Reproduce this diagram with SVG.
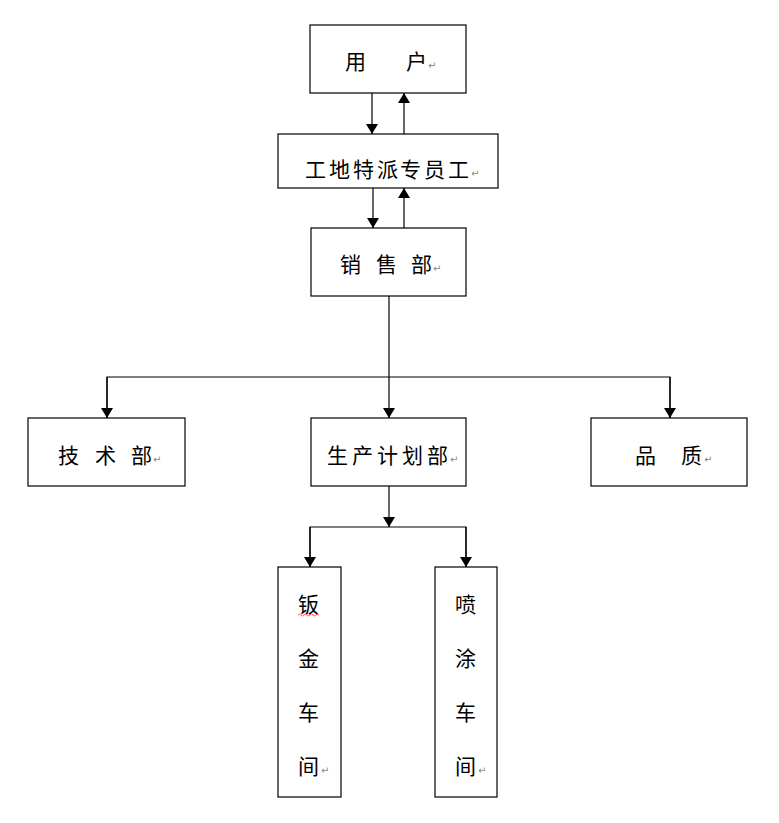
<svg xmlns="http://www.w3.org/2000/svg" width="779" height="823" viewBox="0 0 779 823">
<style>
.box{fill:#fff;stroke:#000;stroke-width:1.2}
.t{font-family:"Liberation Serif","Noto Sans CJK SC",serif;font-size:21px;fill:#000}
.r{font-family:"DejaVu Sans",sans-serif;font-size:10px;fill:#888}
.c{stroke:#000;stroke-width:1.2;fill:none}
</style>
<defs>
<marker id="ah" viewBox="0 0 10 12" refX="10" refY="6" markerWidth="10" markerHeight="12" markerUnits="userSpaceOnUse" orient="auto">
<path d="M0,0 L10,6 L0,12 Z" fill="#000"/>
</marker>
</defs>
<rect width="779" height="823" fill="#fff"/>
<g id="connectors">
<line class="c" x1="372" y1="93" x2="372" y2="134" marker-end="url(#ah)"/>
<line class="c" x1="404" y1="134" x2="404" y2="93" marker-end="url(#ah)"/>
<line class="c" x1="373" y1="188" x2="373" y2="228" marker-end="url(#ah)"/>
<line class="c" x1="404" y1="228" x2="404" y2="188" marker-end="url(#ah)"/>
<line class="c" x1="389" y1="296" x2="389" y2="418" marker-end="url(#ah)"/>
<polyline class="c" points="107,418 107,377 670,377 670,418"/>
<line class="c" x1="107" y1="377" x2="107" y2="418" marker-end="url(#ah)"/>
<line class="c" x1="670" y1="377" x2="670" y2="418" marker-end="url(#ah)"/>
<line class="c" x1="389" y1="486" x2="389" y2="527" marker-end="url(#ah)"/>
<polyline class="c" points="310,567 310,527 466,527 466,567"/>
<line class="c" x1="310" y1="527" x2="310" y2="567" marker-end="url(#ah)"/>
<line class="c" x1="466" y1="527" x2="466" y2="567" marker-end="url(#ah)"/>
</g>
<g id="yonghu">
<rect class="box" x="310" y="25" width="156" height="68"/>
<text class="t" x="345" y="69">用</text>
<text class="t" x="406" y="69">户</text>
<text class="r" x="428" y="69">↵</text>
</g>
<g id="gongdi">
<rect class="box" x="278" y="134" width="220" height="54"/>
<text class="t" x="305" y="177"><tspan x="305">工</tspan><tspan x="329">地</tspan><tspan x="353">特</tspan><tspan x="377">派</tspan><tspan x="400">专</tspan><tspan x="424">员</tspan><tspan x="448">工</tspan></text>
<text class="r" x="471" y="177">↵</text>
</g>
<g id="xiaoshou">
<rect class="box" x="311" y="228" width="155" height="68"/>
<text class="t" x="340" y="272">销</text>
<text class="t" x="376" y="272">售</text>
<text class="t" x="411" y="272">部</text>
<text class="r" x="433" y="272">↵</text>
</g>
<g id="jishu">
<rect class="box" x="28" y="418" width="157" height="68"/>
<text class="t" x="58" y="463">技</text>
<text class="t" x="95" y="463">术</text>
<text class="t" x="131" y="463">部</text>
<text class="r" x="153" y="463">↵</text>
</g>
<g id="shengchan">
<rect class="box" x="311" y="418" width="155" height="68"/>
<text class="t" x="327" y="463"><tspan x="327">生</tspan><tspan x="352">产</tspan><tspan x="377">计</tspan><tspan x="402">划</tspan><tspan x="427">部</tspan></text>
<text class="r" x="450" y="463">↵</text>
</g>
<g id="pinzhi">
<rect class="box" x="591" y="418" width="156" height="68"/>
<text class="t" x="635" y="463">品</text>
<text class="t" x="681" y="463">质</text>
<text class="r" x="704" y="463">↵</text>
</g>
<g id="banjin">
<rect class="box" x="278" y="567" width="63" height="230"/>
<text class="t" x="298" y="612">钣</text>
<path d="M298,615 q1.5,-2 3,0 t3,0 t3,0 t3,0 t3,0 t3,0 t3,0" stroke="#e33" stroke-width="0.8" fill="none"/>
<text class="t" x="298" y="666">金</text>
<text class="t" x="298" y="720">车</text>
<text class="t" x="298" y="774">间</text>
<text class="r" x="321" y="774">↵</text>
</g>
<g id="pentu">
<rect class="box" x="435" y="567" width="62" height="230"/>
<text class="t" x="455" y="612">喷</text>
<text class="t" x="455" y="666">涂</text>
<text class="t" x="455" y="720">车</text>
<text class="t" x="455" y="774">间</text>
<text class="r" x="478" y="774">↵</text>
</g>
</svg>
